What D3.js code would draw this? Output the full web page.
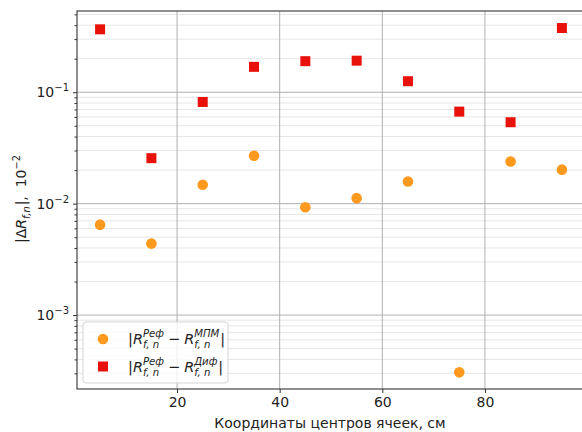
<!DOCTYPE html>
<html>
<head>
<meta charset="utf-8">
<script src="https://cdn.jsdelivr.net/npm/d3@7"></script>
<style>
  body { margin: 0; background: #fff; }
  text { font-family: "DejaVu Sans", sans-serif; fill: #222; white-space: pre; }
</style>
</head>
<body>
<div id="chart"></div>
<script>
// cell centres, cm
const xs = [5, 15, 25, 35, 45, 55, 65, 75, 85, 95];
// |R_ref - R_MPM|
const mpmVals = [0.00648, 0.00438, 0.0148, 0.0269, 0.00927, 0.0112, 0.0158, 0.000306, 0.0239, 0.0202];
// |R_ref - R_dif|
const difVals = [0.367, 0.0256, 0.0818, 0.169, 0.19, 0.192, 0.1256, 0.067, 0.0538, 0.377];
const xTicks = [20, 40, 60, 80];
const yTicks = [1e-3, 1e-2, 1e-1];

const W = 582, H = 432;
const margin = {left: 77, top: 11, right: -3, bottom: 43};
const width = W - margin.left - margin.right;
const height = H - margin.top - margin.bottom;

const svg = d3.select("#chart").append("svg")
    .attr("width", W)
    .attr("height", H);

const g = svg.append("g")
    .attr("transform", "translate(" + margin.left + "," + margin.top + ")");

const x = d3.scaleLinear().domain([0.5, 99.5]).range([0, width]);
const y = d3.scaleLog().domain([2.17e-4, 0.536]).range([height, 0]);

// minor ticks on the log axis
let minorTicks = [];
[1e-4, 1e-3, 1e-2, 1e-1].forEach(dec => {
    for (let k = 2; k <= 9; k++) {
        let v = dec * k;
        if (v >= y.domain()[0] && v <= y.domain()[1]) minorTicks.push(v);
    }
});

// grid
g.selectAll(".minor-grid")
    .data(minorTicks)
    .enter().append("line")
    .attr("class", "minor-grid")
    .attr("x1", 0).attr("x2", width)
    .attr("y1", d => y(d)).attr("y2", d => y(d))
    .style("stroke", "#e6e6e6")
    .style("stroke-width", 1);

g.selectAll(".major-grid")
    .data(yTicks)
    .enter().append("line")
    .attr("class", "major-grid")
    .attr("x1", 0).attr("x2", width)
    .attr("y1", d => y(d)).attr("y2", d => y(d))
    .style("stroke", "#b0b0b0")
    .style("stroke-width", 1);

g.selectAll(".x-grid")
    .data(xTicks)
    .enter().append("line")
    .attr("class", "x-grid")
    .attr("y1", 0).attr("y2", height)
    .attr("x1", d => x(d)).attr("x2", d => x(d))
    .style("stroke", "#b0b0b0")
    .style("stroke-width", 1);

// axes
const xAxis = d3.axisBottom(x).tickValues(xTicks).tickSize(4).tickPadding(4).tickFormat(d3.format("d"));
const yAxis = d3.axisLeft(y).tickValues(yTicks).tickSize(4).tickPadding(4).tickFormat("");
const yMinor = d3.axisLeft(y).tickValues(minorTicks).tickSize(2.5).tickFormat("");

g.append("g").attr("class", "x-axis")
    .attr("transform", "translate(0," + height + ")")
    .call(xAxis)
    .call(a => a.select(".domain").remove())
    .selectAll("text").style("font-size", "14px").style("fill", "#222")
    .style("font-family", "DejaVu Sans");

let yAx = g.append("g").attr("class", "y-axis").call(yAxis);
yAx.select(".domain").remove();
let yMin = g.append("g").attr("class", "y-minor").call(yMinor);
yMin.select(".domain").remove();
g.selectAll(".x-axis line, .y-axis line, .y-minor line").style("stroke", "#333");

// y tick labels 10^n
yTicks.forEach(v => {
    let t = g.append("text")
        .attr("x", -8)
        .attr("y", y(v) + 5)
        .attr("text-anchor", "end")
        .style("font-size", "14px");
    t.append("tspan").text("10");
    t.append("tspan").attr("dy", -6).style("font-size", "10px").text("−" + Math.round(-Math.log10(v)));
});

// spines
g.append("rect")
    .attr("x", 0).attr("y", 0)
    .attr("width", width).attr("height", height)
    .style("fill", "none")
    .style("stroke", "#333")
    .style("stroke-width", 1.1);

// points
g.selectAll(".dif")
    .data(xs.map((d, i) => ({x: d, v: difVals[i]})))
    .enter().append("rect")
    .attr("class", "dif")
    .attr("x", d => x(d.x) - 5)
    .attr("y", d => y(d.v) - 5)
    .attr("width", 10).attr("height", 10)
    .style("fill", "#e8120b");

g.selectAll(".mpm")
    .data(xs.map((d, i) => ({x: d, v: mpmVals[i]})))
    .enter().append("circle")
    .attr("class", "mpm")
    .attr("cx", d => x(d.x))
    .attr("cy", d => y(d.v))
    .attr("r", 5.3)
    .style("fill", "#ff9a1e");

// math-like text: pieces [{t, it, sup, sub}]
function mathText(parent, pieces, size) {
    let grp = parent.append("g");
    let cx = 0;
    pieces.forEach(p => {
        if (p.pad) cx += p.pad;
        if (p.t) {
            let t = grp.append("text").attr("x", cx).attr("y", 0)
                .style("font-size", size + "px")
                .style("font-style", p.it ? "italic" : "normal")
                .text(p.t);
            cx += t.node().getComputedTextLength();
        }
        if (p.sup || p.sub) {
            let w = 0;
            if (p.sup) {
                let s = grp.append("text").attr("x", cx).attr("y", -size * 0.45)
                    .style("font-size", size * 0.7 + "px")
                    .style("font-style", p.supIt === false ? "normal" : "italic")
                    .text(p.sup);
                w = Math.max(w, s.node().getComputedTextLength());
            }
            if (p.sub) {
                let s = grp.append("text").attr("x", cx).attr("y", size * 0.3)
                    .style("font-size", size * 0.7 + "px")
                    .style("font-style", "italic")
                    .text(p.sub);
                w = Math.max(w, s.node().getComputedTextLength());
            }
            cx += w + 1;
        }
    });
    return grp;
}

// legend
const leg = svg.append("g").attr("transform", "translate(83,322)");
leg.append("rect")
    .attr("width", 145).attr("height", 61)
    .attr("rx", 3)
    .style("fill", "rgba(255,255,255,0.8)")
    .style("stroke", "#d5d5d5");
leg.append("circle").attr("cx", 20).attr("cy", 17).attr("r", 5.3).style("fill", "#ff9a1e");
leg.append("rect").attr("x", 15).attr("y", 39.5).attr("width", 10).attr("height", 10).style("fill", "#e8120b");

mathText(leg, [
    {t: "|"}, {t: "R", it: true, sup: "Реф", sub: "f, n"},
    {t: "−", pad: 3}, {t: "R", it: true, pad: 4, sup: "МПМ", sub: "f, n"}, {t: "|"}
], 14.5).attr("transform", "translate(45,22)");
mathText(leg, [
    {t: "|"}, {t: "R", it: true, sup: "Реф", sub: "f, n"},
    {t: "−", pad: 3}, {t: "R", it: true, pad: 4, sup: "Диф", sub: "f, n"}, {t: "|"}
], 14.5).attr("transform", "translate(45,50)");

// axis labels
svg.append("text")
    .attr("x", 330).attr("y", 428)
    .attr("text-anchor", "middle")
    .style("font-size", "14px")
    .text("Координаты центров ячеек, см");

const ylab = mathText(svg, [
    {t: "|Δ"}, {t: "R", it: true, sub: "f,n"}, {t: "|,  10"}, {sup: "−2", supIt: false}
], 14);
const bb = ylab.node().getBBox();
ylab.attr("transform", "translate(26," + (199 + bb.width / 2) + ") rotate(-90)");
</script>
</body>
</html>
